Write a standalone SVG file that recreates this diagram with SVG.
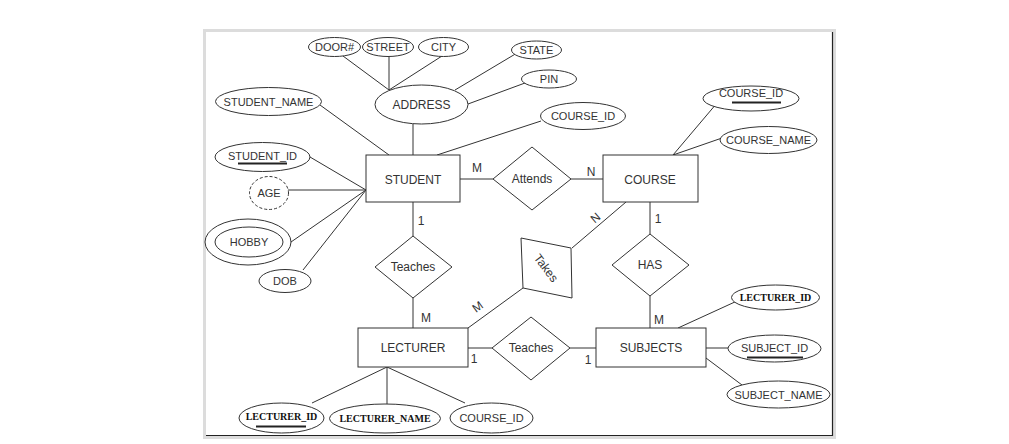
<svg xmlns="http://www.w3.org/2000/svg" width="1009" height="444" viewBox="0 0 1009 444">
<style>
.ln{stroke:#333;stroke-width:1;fill:none}
.sh{fill:#fff;stroke:#333;stroke-width:1}
.t{font-family:"Liberation Sans",Arial,sans-serif;fill:#333;text-anchor:middle}
.n{font-size:12px}
.a{font-size:11px}
.b{font-family:"Liberation Serif","Times New Roman",serif;font-weight:bold;font-size:10px;fill:#111;text-anchor:middle}
.u{stroke:#222;stroke-width:2}
</style>
<rect x="0" y="0" width="1009" height="444" fill="#fff"/>
<rect x="203" y="29" width="633" height="410" fill="#dcdcdc"/>
<rect x="206" y="32" width="627" height="403" fill="#fff"/>
<path d="M832.5 32V435.5H206" stroke="#222" stroke-width="1.2" fill="none"/>
<g id="connectors">
<line class="ln" x1="460" y1="179" x2="493" y2="179"/>
<line class="ln" x1="571" y1="179" x2="603" y2="179"/>
<line class="ln" x1="413" y1="202" x2="413" y2="236"/>
<line class="ln" x1="413" y1="298" x2="413" y2="328"/>
<line class="ln" x1="650" y1="202" x2="650" y2="234"/>
<line class="ln" x1="650" y1="296" x2="650" y2="328"/>
<line class="ln" x1="468" y1="348" x2="492" y2="348"/>
<line class="ln" x1="570" y1="348" x2="596" y2="348"/>
<line class="ln" x1="626" y1="202" x2="572" y2="248"/>
<line class="ln" x1="523" y1="288" x2="468" y2="328"/>
<line class="ln" x1="413" y1="124" x2="413" y2="155"/>
<line class="ln" x1="343" y1="56" x2="389" y2="90"/>
<line class="ln" x1="389" y1="57" x2="389" y2="90"/>
<line class="ln" x1="442" y1="56" x2="389" y2="90"/>
<line class="ln" x1="455" y1="90" x2="517" y2="53"/>
<line class="ln" x1="468" y1="104" x2="525" y2="83"/>
<line class="ln" x1="437" y1="155" x2="541" y2="121"/>
<line class="ln" x1="320" y1="105" x2="389" y2="155"/>
<line class="ln" x1="310" y1="157" x2="366" y2="190"/>
<line class="ln" x1="288" y1="190" x2="366" y2="190"/>
<line class="ln" x1="291" y1="242" x2="366" y2="190"/>
<line class="ln" x1="303" y1="270" x2="366" y2="190"/>
<line class="ln" x1="673" y1="155" x2="717" y2="103"/>
<line class="ln" x1="673" y1="155" x2="722" y2="138"/>
<line class="ln" x1="387" y1="367" x2="312" y2="403"/>
<line class="ln" x1="387" y1="367" x2="387" y2="404"/>
<line class="ln" x1="387" y1="367" x2="465" y2="403"/>
<line class="ln" x1="678" y1="328" x2="737" y2="301"/>
<line class="ln" x1="706" y1="348" x2="728" y2="348"/>
<line class="ln" x1="706" y1="358" x2="742" y2="385"/>
<text class="t n" x="477" y="172">M</text>
<text class="t n" x="591" y="176">N</text>
<text class="t n" x="421" y="225">1</text>
<text class="t n" x="658" y="223">1</text>
<text class="t n" x="426" y="322">M</text>
<text class="t n" x="474" y="363">1</text>
<text class="t n" x="588" y="364">1</text>
<text class="t n" x="659" y="324">M</text>
<text class="t n" transform="translate(598,221) rotate(-40)">N</text>
<text class="t n" transform="translate(480,310) rotate(-36)">M</text>
</g>
<g id="student"><rect class="sh" x="366" y="155" width="94" height="47"/><text class="t n" x="413" y="184">STUDENT</text></g>
<g id="course"><rect class="sh" x="603" y="155" width="95" height="47"/><text class="t n" x="650" y="184">COURSE</text></g>
<g id="lecturer"><rect class="sh" x="358" y="328" width="110" height="39"/><text class="t n" x="413" y="352">LECTURER</text></g>
<g id="subjects"><rect class="sh" x="596" y="328" width="110" height="39"/><text class="t n" x="651" y="352">SUBJECTS</text></g>
<g id="attends"><polygon class="sh" points="493,179 532,147 571,179 532,210"/><text class="t n" x="532" y="183">Attends</text></g>
<g id="teaches1"><polygon class="sh" points="375,267 413,236 452,267 413,298"/><text class="t n" x="413" y="271">Teaches</text></g>
<g id="teaches2"><polygon class="sh" points="492,348 531,317 570,348 531,380"/><text class="t n" x="531" y="352">Teaches</text></g>
<g id="has"><polygon class="sh" points="612,265 650,234 689,265 650,296"/><text class="t n" x="650" y="269">HAS</text></g>
<g id="takes"><polygon class="sh" points="521,238 571,248 572,298 523,288"/><text class="t n" transform="translate(546,268) rotate(53)" y="4">Takes</text></g>
<g id="address"><ellipse class="sh" cx="421.5" cy="104.5" rx="46.5" ry="19.5"/><text class="t n" x="421.5" y="109">ADDRESS</text></g>
<g id="door"><ellipse class="sh" cx="334.5" cy="47" rx="26" ry="9.5"/><text class="t a" x="334.5" y="51">DOOR#</text></g>
<g id="street"><ellipse class="sh" cx="388" cy="47" rx="25.5" ry="9.5"/><text class="t a" x="388" y="51">STREET</text></g>
<g id="city"><ellipse class="sh" cx="443.5" cy="47" rx="25" ry="9.5"/><text class="t a" x="443.5" y="51">CITY</text></g>
<g id="state"><ellipse class="sh" cx="536.5" cy="50" rx="25" ry="9"/><text class="t a" x="536.5" y="54">STATE</text></g>
<g id="pin"><ellipse class="sh" cx="549" cy="79" rx="27.5" ry="9"/><text class="t a" x="549" y="83">PIN</text></g>
<g id="course_id_s"><ellipse class="sh" cx="583" cy="116" rx="42.5" ry="13.5"/><text class="t a" x="583" y="120">COURSE_ID</text></g>
<g id="student_name"><ellipse class="sh" cx="268.5" cy="101.5" rx="53" ry="14"/><text class="t a" x="268.5" y="105.5">STUDENT_NAME</text></g>
<g id="student_id"><ellipse class="sh" cx="262.5" cy="157" rx="47.5" ry="14.5"/><text class="t a" x="262.5" y="160">STUDENT_ID</text><line class="u" x1="238" y1="163.5" x2="287" y2="163.5"/></g>
<g id="age"><ellipse cx="269" cy="193" rx="19.5" ry="16.5" fill="#fff" stroke="#333" stroke-dasharray="3,2"/><text class="t a" x="269" y="197">AGE</text></g>
<g id="hobby"><ellipse class="sh" cx="248" cy="242" rx="43" ry="23"/><ellipse class="sh" cx="249" cy="242" rx="34" ry="15"/><text class="t a" x="249" y="246">HOBBY</text></g>
<g id="dob"><ellipse class="sh" cx="285" cy="281" rx="26" ry="11.5"/><text class="t a" x="285" y="285">DOB</text></g>
<g id="course_id_c"><ellipse class="sh" cx="751" cy="98.5" rx="48" ry="12.5"/><text class="t a" x="751" y="97">COURSE_ID</text><line class="u" x1="732" y1="102.5" x2="781" y2="102.5"/></g>
<g id="course_name"><ellipse class="sh" cx="768.5" cy="140" rx="48.5" ry="13.5"/><text class="t a" x="768.5" y="144">COURSE_NAME</text></g>
<g id="lecturer_id_l"><ellipse class="sh" cx="281.5" cy="418" rx="42.5" ry="15"/><text class="b" x="281.5" y="420">LECTURER_ID</text><line class="u" x1="256" y1="426.5" x2="306" y2="426.5"/></g>
<g id="lecturer_name"><ellipse class="sh" cx="385" cy="418.5" rx="55.5" ry="14.5"/><text class="b" x="385" y="422">LECTURER_NAME</text></g>
<g id="course_id_l"><ellipse class="sh" cx="491.5" cy="418" rx="41.5" ry="15"/><text class="t a" x="491.5" y="422">COURSE_ID</text></g>
<g id="lecturer_id_s"><ellipse class="sh" cx="775.5" cy="297.5" rx="44" ry="12.5"/><text class="b" x="775.5" y="301">LECTURER_ID</text></g>
<g id="subject_id"><ellipse class="sh" cx="774.5" cy="348.5" rx="46.5" ry="13.5"/><text class="t a" x="774.5" y="352">SUBJECT_ID</text><line class="u" x1="747" y1="357.5" x2="803" y2="357.5"/></g>
<g id="subject_name"><ellipse class="sh" cx="778.5" cy="394.5" rx="51.5" ry="13.5"/><text class="t a" x="778.5" y="398.5">SUBJECT_NAME</text></g>
</svg>
